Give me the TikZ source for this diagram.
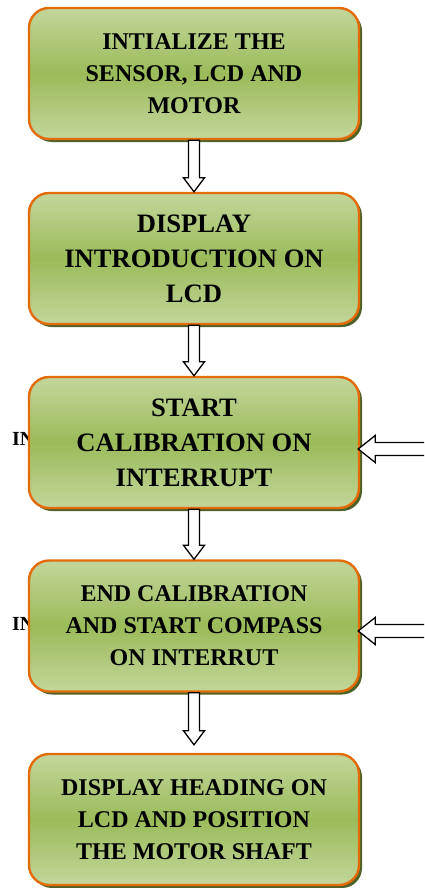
\documentclass[tikz,border=0pt]{standalone}
\usepackage{fontspec}
\setmainfont{Liberation Serif}
\usetikzlibrary{calc,shadows}

\definecolor{boxlight}{HTML}{C3D69B}
\definecolor{boxmid}{HTML}{9BBB59}
\definecolor{boxedge}{HTML}{E36C09}
\definecolor{boxshade}{HTML}{4F6228}

\tikzset{
  stepbox/.style={draw=boxedge, line width=2.4pt, rounded corners=20pt,
    minimum width=330pt, minimum height=131pt, inner sep=0pt, align=center,
    top color=boxlight, bottom color=boxlight, middle color=boxmid,
    general shadow={fill=boxshade, shadow xshift=3pt, shadow yshift=-3pt},
    font=\bfseries\fontsize{24}{32}\selectfont},
  bigtext/.style={font=\bfseries\fontsize{26.6}{35}\selectfont},
  hollow/.style={draw=black, line width=1.3pt, fill=white, line join=miter},
  sidetext/.style={font=\bfseries\fontsize{20}{24}\selectfont, anchor=base west, inner sep=0pt}
}

% hollow downward arrow: #1 = top of shaft, #2 = tip
\newcommand\hollowdown[2]{%
  \filldraw[hollow] ($(#1)+(-5.5,0)$) -- ($(#2)+(-5.5,-14)$) -- ($(#2)+(-10.5,-14)$)
    -- (#2) -- ($(#2)+(10.5,-14)$) -- ($(#2)+(5.5,-14)$) -- ($(#1)+(5.5,0)$) -- cycle;}

% hollow leftward arrow: #1 = free end, #2 = tip
\newcommand\hollowleft[2]{%
  \filldraw[hollow] ($(#1)+(0,-6.5)$) -- ($(#2)+(17,-6.5)$) -- ($(#2)+(17,-13.5)$)
    -- (#2) -- ($(#2)+(17,13.5)$) -- ($(#2)+(17,6.5)$) -- ($(#1)+(0,6.5)$);}

\begin{document}
\begin{tikzpicture}[x=1pt, y=-1pt]
  \useasboundingbox (0,0) rectangle (424,888);

  % side labels, partly covered by the boxes
  \node[sidetext] (lblA) at (12,445) {IN};
  \node[sidetext] (lblB) at (12,630) {IN};

  % process steps
  \node[stepbox] (b1) at (194,73.5) {INTIALIZE THE\\SENSOR, LCD AND\\MOTOR};
  \node[stepbox, bigtext] (b2) at (194,258.5) {DISPLAY\\INTRODUCTION ON\\LCD};
  \node[stepbox, bigtext] (b3) at (194,442.5) {START\\CALIBRATION ON\\INTERRUPT};
  \node[stepbox] (b4) at (194,626) {END CALIBRATION\\AND START COMPASS\\ON INTERRUT};
  \node[stepbox] (b5) at (194,819.5) {DISPLAY HEADING ON\\LCD AND POSITION\\THE MOTOR SHAFT};

  % flow between steps
  \hollowdown{b1.south}{b2.north}
  \hollowdown{b2.south}{b3.north}
  \hollowdown{b3.south}{b4.north}
  \coordinate (tip5) at ($(b5.north)+(0,-8)$);
  \hollowdown{b4.south}{tip5}

  % interrupt inputs from the right
  \coordinate (inA) at (424,449);
  \coordinate (tipA) at ($(b3.east)+(-2,6.5)$);
  \hollowleft{inA}{tipA}
  \coordinate (inB) at (424,631);
  \coordinate (tipB) at ($(b4.east)+(-2,5)$);
  \hollowleft{inB}{tipB}
\end{tikzpicture}
\end{document}
